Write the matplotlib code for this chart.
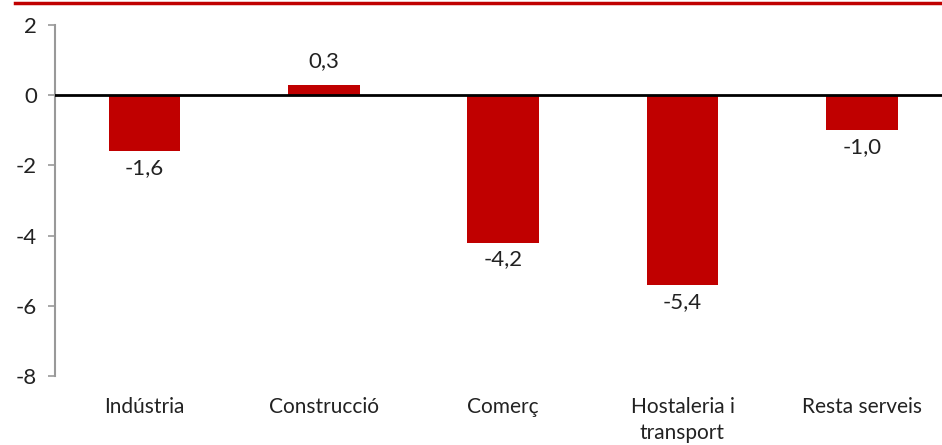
import matplotlib.pyplot as plt
from matplotlib.lines import Line2D

# Dades del gràfic
sectors = ["Indústria", "Construcció", "Comerç", "Hostaleria i\ntransport", "Resta serveis"]
valors = [-1.6, 0.3, -4.2, -5.4, -1.0]
yticks = [2, 0, -2, -4, -6, -8]

vermell = "#C00000"
plt.rcParams["font.family"] = ["Lato", "DejaVu Sans"]

fig = plt.figure(figsize=(9.42, 4.45), dpi=100)
ax = fig.add_axes([55 / 942, 69 / 445, 1 - 55 / 942 + 0.01, 351 / 445])

x = list(range(len(sectors)))
ax.bar(x, valors, width=0.4, color=vermell, zorder=2)
ax.axhline(0, color="black", linewidth=2, zorder=3)

# Etiquetes de valor amb coma decimal
for xi, v in zip(x, valors):
    txt = f"{v:.1f}".replace(".", ",")
    if v >= 0:
        ax.annotate(txt, (xi, v), xytext=(0, 10), textcoords="offset points",
                    ha="center", va="bottom", fontsize=16, color="#222222")
    else:
        ax.annotate(txt, (xi, v), xytext=(0, -5), textcoords="offset points",
                    ha="center", va="top", fontsize=16, color="#222222")

ax.set_xlim(-0.5, 4.5)
ax.set_ylim(-8, 2)
ax.set_yticks(yticks)
ax.set_yticklabels([str(t) for t in yticks], fontsize=16, color="#222222")
ax.set_xticks(x)
ax.set_xticklabels(sectors, fontsize=15, color="#222222", linespacing=1.4)
ax.tick_params(axis="x", length=0, pad=15)
ax.tick_params(axis="y", length=5, color="#999999", width=1.2, pad=8)

for s in ["top", "right", "bottom"]:
    ax.spines[s].set_visible(False)
ax.spines["left"].set_color("#999999")
ax.spines["left"].set_linewidth(1.5)

# Línia vermella superior
fig.add_artist(Line2D([15 / 942, 1], [1 - 3 / 445, 1 - 3 / 445], color=vermell,
                      linewidth=2.5, transform=fig.transFigure))

fig.savefig("out.png", dpi=100)
